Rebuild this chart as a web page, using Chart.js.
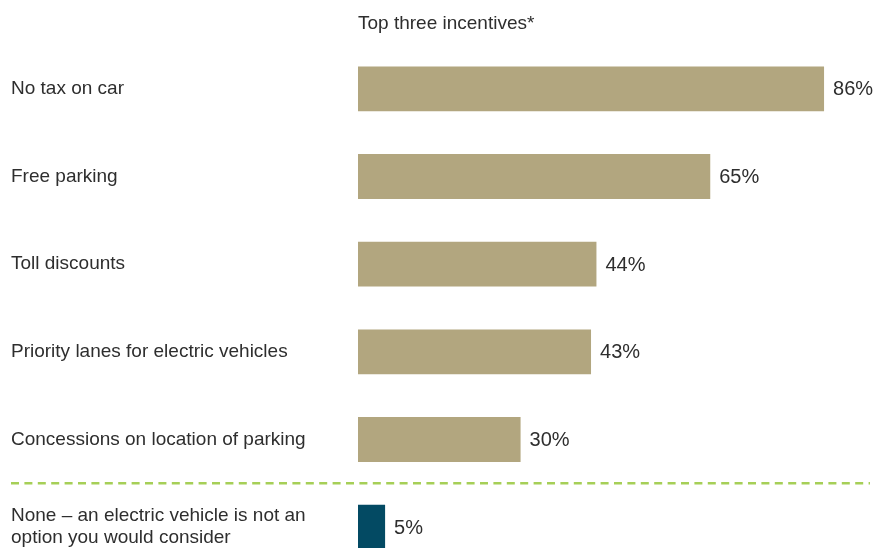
<!DOCTYPE html>
<html>
<head>
<meta charset="utf-8">
<script src="https://cdn.jsdelivr.net/npm/chart.js@4/dist/chart.umd.min.js"></script>
<style>
  html, body { margin: 0; padding: 0; background: #fff; overflow: hidden; }
  #wrap { position: relative; width: 888px; height: 582px; }
</style>
</head>
<body>
<div id="wrap"><canvas id="c"></canvas></div>
<script>
// Survey: top three incentives for choosing an electric vehicle
const categories = [
  'No tax on car',
  'Free parking',
  'Toll discounts',
  'Priority lanes for electric vehicles',
  'Concessions on location of parking',
  ['None \u2013 an electric vehicle is not an', 'option you would consider']
];
const shares = [86, 65, 44, 43, 30, 5];
const barColors = ['#b2a67f', '#b2a67f', '#b2a67f', '#b2a67f', '#b2a67f', '#034a63'];
const titleText = 'Top three incentives*';

const TEXT_FONT = "'Liberation Sans', Arial, sans-serif";
const TEXT_COLOR = '#2e2e2e';

const overlay = {
  id: 'overlay',
  afterDatasetsDraw(chart) {
    const ctx = chart.ctx;
    const area = chart.chartArea;
    const y = chart.scales.y;
    const meta = chart.getDatasetMeta(0);
    ctx.save();
    // value labels at bar ends
    ctx.font = "20px " + TEXT_FONT;
    ctx.fillStyle = TEXT_COLOR;
    ctx.textAlign = 'left';
    ctx.textBaseline = 'middle';
    meta.data.forEach((bar, i) => {
      ctx.fillText(shares[i] + '%', bar.x + 9, bar.y + 1);
    });
    // heading above the bars
    ctx.font = "19px " + TEXT_FONT;
    ctx.textBaseline = 'alphabetic';
    ctx.fillText(titleText, area.left, 29);
    // dashed separator before the last row
    const sepY = (y.getPixelForValue(4) + y.getPixelForValue(5)) / 2;
    ctx.strokeStyle = '#a6cf57';
    ctx.lineWidth = 2.6;
    ctx.setLineDash([8, 5.4]);
    ctx.beginPath();
    ctx.moveTo(11, sepY);
    ctx.lineTo(870, sepY);
    ctx.stroke();
    ctx.restore();
  }
};

new Chart(document.getElementById('c'), {
  type: 'bar',
  data: {
    labels: categories,
    datasets: [{
      data: shares,
      backgroundColor: barColors,
      borderWidth: 0,
      barPercentage: 1,
      categoryPercentage: 0.512
    }]
  },
  options: {
    indexAxis: 'y',
    responsive: true,
    maintainAspectRatio: false,
    animation: false,
    layout: { padding: { left: 11, top: 45, right: 0, bottom: 0 } },
    plugins: {
      legend: { display: false },
      tooltip: { enabled: false }
    },
    scales: {
      x: {
        display: false,
        min: 0,
        max: 97.8
      },
      y: {
        grid: { display: false },
        border: { display: false },
        afterFit(scale) { scale.width = 347; },
        ticks: {
          crossAlign: 'far',
          color: TEXT_COLOR,
          font: { family: TEXT_FONT, size: 19, lineHeight: 1.16 },
          padding: 0
        }
      }
    }
  },
  plugins: [overlay]
});
</script>
</body>
</html>
